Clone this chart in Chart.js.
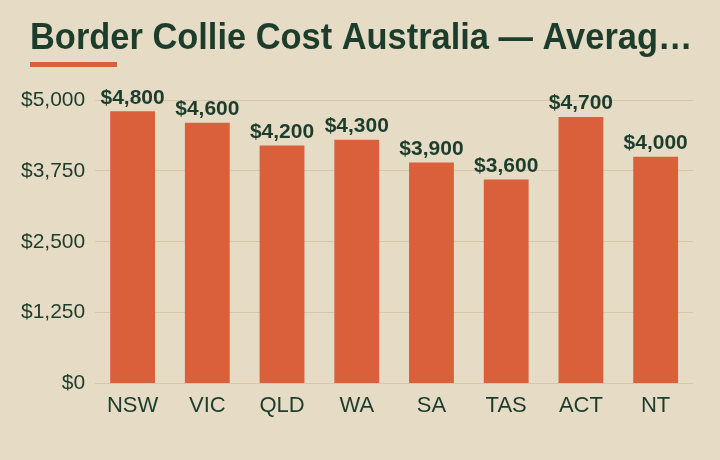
<html>
   <head>
      <script src="https://cdn.jsdelivr.net/npm/chart.js@4.4.1/dist/chart.umd.min.js"></script>
   </head>
   <style>
      html,
      body {
         margin: 0;
         width: 720px;
         height: 460px;
         background: #e6dcc5;
         overflow: hidden;
      }
   </style>

   <body>
      <canvas id="myChart" width="720" height="460"></canvas>
   </body>
   <script>
      const titleText = "Border Collie Cost Australia \u2014 Average Puppy Price by State";
      const states = ["NSW", "VIC", "QLD", "WA", "SA", "TAS", "ACT", "NT"];
      const avgPrice = [4800, 4600, 4200, 4300, 3900, 3600, 4700, 4000];
      const yTicks = [0, 1250, 2500, 3750, 5000];

      const green = "#1d3d2c";
      const orange = "#d9603b";

      const fmt = (v) => "$" + v.toLocaleString("en-US");

      // title + underline, cut with an ellipsis like the original
      const titlePlugin = {
         id: "titleBar",
         afterDraw(chart) {
            const ctx = chart.ctx;
            ctx.save();
            ctx.font = "bold 36px 'Liberation Sans'";
            ctx.fillStyle = green;
            ctx.textBaseline = "alphabetic";
            // narrow the face (no condensed font installed)
            const sx = 459 / ctx.measureText("Border Collie Cost Australia").width;
            const maxW = (694 - 30) / sx;
            let t = titleText;
            if (ctx.measureText(t).width > maxW) {
               while (t.length && ctx.measureText(t + "\u2026").width > maxW) t = t.slice(0, -1);
               t = t.trimEnd() + "\u2026";
            }
            ctx.translate(30, 49);
            ctx.scale(sx, 1);
            ctx.fillText(t, 0, 0);
            ctx.restore();
            ctx.save();
            ctx.fillStyle = orange;
            ctx.fillRect(30, 62, 87, 5);
            ctx.restore();
         },
      };

      // value labels above the bars
      const valuePlugin = {
         id: "valueLabels",
         afterDatasetsDraw(chart) {
            const ctx = chart.ctx;
            const meta = chart.getDatasetMeta(0);
            ctx.save();
            ctx.font = "bold 21px 'Liberation Sans'";
            ctx.fillStyle = green;
            ctx.textAlign = "center";
            ctx.textBaseline = "bottom";
            meta.data.forEach((bar, i) => {
               ctx.fillText(fmt(avgPrice[i]), bar.x, bar.y - 3);
            });
            ctx.restore();
         },
      };

      new Chart(document.getElementById("myChart"), {
         type: "bar",
         data: {
            labels: states,
            datasets: [
               {
                  data: avgPrice,
                  backgroundColor: orange,
                  categoryPercentage: 0.6,
                  barPercentage: 1,
               },
            ],
         },
         options: {
            responsive: false,
            animation: false,
            layout: { padding: { top: 100, left: 11, right: 27, bottom: 40 } },
            plugins: { legend: { display: false }, tooltip: { enabled: false } },
            scales: {
               y: {
                  min: 0,
                  max: 5000,
                  afterBuildTicks(axis) {
                     axis.ticks = yTicks.map((v) => ({ value: v }));
                  },
                  border: { display: false },
                  grid: { color: "#d4c8a8", drawTicks: false },
                  ticks: {
                     color: green,
                     font: { family: "'Liberation Sans'", size: 21 },
                     padding: 10,
                     callback: (v) => fmt(v),
                  },
               },
               x: {
                  border: { display: false },
                  grid: { display: false },
                  ticks: {
                     color: green,
                     font: { family: "'Liberation Sans'", size: 22 },
                     padding: 1,
                  },
               },
            },
         },
         plugins: [titlePlugin, valuePlugin],
      });
   </script>
</html>
